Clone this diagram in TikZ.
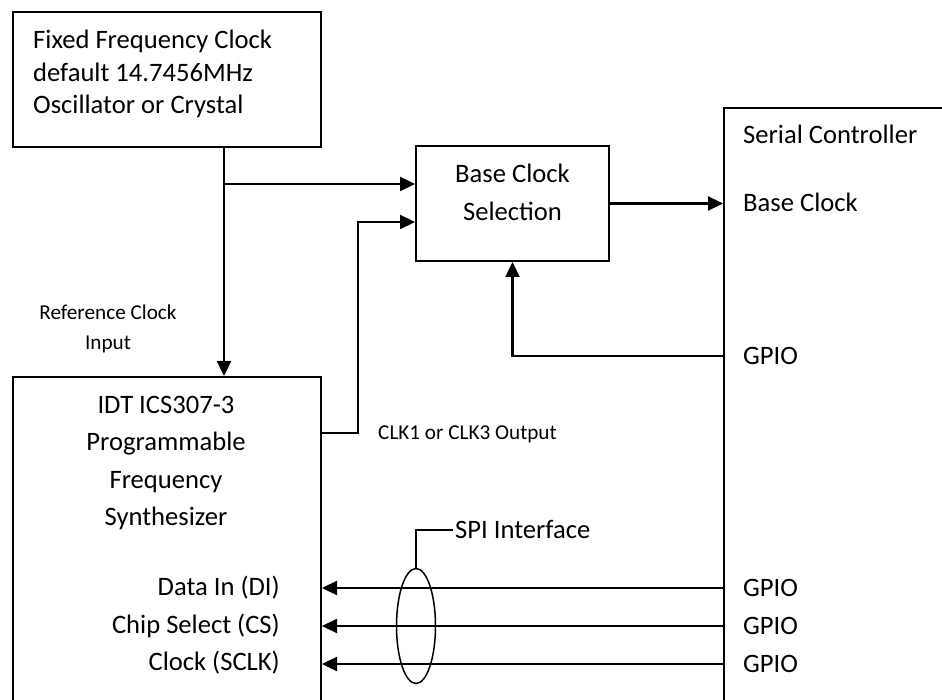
\documentclass[tikz,border=0pt]{standalone}
\usepackage{fontspec}
\setmainfont{Carlito}
\usetikzlibrary{arrows.meta,positioning,calc,shapes.geometric}

\begin{document}
\begin{tikzpicture}[
      x=1pt, y=-1pt,
      >={Triangle[length=15pt,width=14pt]},
      blk/.style={draw,line width=2pt,inner sep=0pt,anchor=north west},
      txt/.style={inner sep=0pt,font=\fontsize{26.6}{37.5}\selectfont},
      note/.style={inner sep=0pt,font=\fontsize{21.2}{30}\selectfont},
      pin/.style={txt,anchor=west,text height=17pt,text depth=0pt},
      sig/.style={->,line width=2.3pt}
    ]
      \path[use as bounding box,clip] (0,0) rectangle (942,700);
      % boxes
      \node[blk,minimum width=308,minimum height=135] (fixed) at (12,11) {};
      \node[txt,align=left,anchor=north west,font=\fontsize{26.6}{32.5}\selectfont] (fixedtext) at (33,30) {Fixed Frequency Clock\\default 14.7456MHz\\Oscillator or Crystal};
      \node[blk,minimum width=193,minimum height=115] (sel) at (415,145) {};
      \node[txt,align=center] (seltext) at ($(sel.center)+(0,-11)$) {Base Clock\\Selection};
      \node[blk,minimum width=308,minimum height=400] (idt) at (12,376) {};
      \node[txt,align=center,anchor=north] (idttext) at (166,396) {IDT ICS307-3\\Programmable\\Frequency\\Synthesizer};
      \node[blk,minimum width=300,minimum height=700] (serial) at (723,107) {};
      % pin names
      \node[pin] (sertext) at (743,135) {Serial Controller};
      \node[pin] (baseclk) at (743,203) {Base Clock};
      \node[pin] (gpio0) at (743,356) {GPIO};
      \node[pin] (gpio1) at (743,588) {GPIO};
      \node[pin] (gpio2) at (743,626) {GPIO};
      \node[pin] (gpio3) at (743,664) {GPIO};
      \node[pin,anchor=east] (di) at (280,587) {Data In (DI)};
      \node[pin,anchor=east] (cs) at (280,625) {Chip Select (CS)};
      \node[pin,anchor=east] (sclk) at (280,662) {Clock (SCLK)};
      \node[note,align=center] (reflbl) at (108,329) {Reference Clock\\Input};
      \node[note,anchor=west,text height=13.6pt,text depth=0pt] (clklbl) at (378,433) {CLK1 or CLK3 Output};
      % spi bundle
      \node[draw,ellipse,line width=1.5pt,inner sep=0pt,minimum width=39,minimum height=115] (spi) at (416,626) {};
      \node[pin] (spilbl) at (455,530) {SPI Interface};
      \draw[line width=1.5pt,shorten >=2pt] (spi.north) |- (spilbl.west);
      % signals
      \coordinate (tap) at (224,184);
      \coordinate (clkturn) at (358,433);
      \coordinate (selin) at (415,222);
      \draw[sig] (fixed.south -| tap) -- (idt.north -| tap);
      \draw[sig] (tap) -- (sel.west |- tap);
      \draw[sig] (idt.east |- clkturn) -- (clkturn) |- (selin);
      \draw[sig] (sel.east) -- (serial.west |- sel.east);
      \draw[sig] (serial.west |- gpio0) -| (sel.south);
      \foreach \row in {gpio1,gpio2,gpio3}
        \draw[sig] (serial.west |- \row) -- (idt.east |- \row);
    \end{tikzpicture}
\end{document}
